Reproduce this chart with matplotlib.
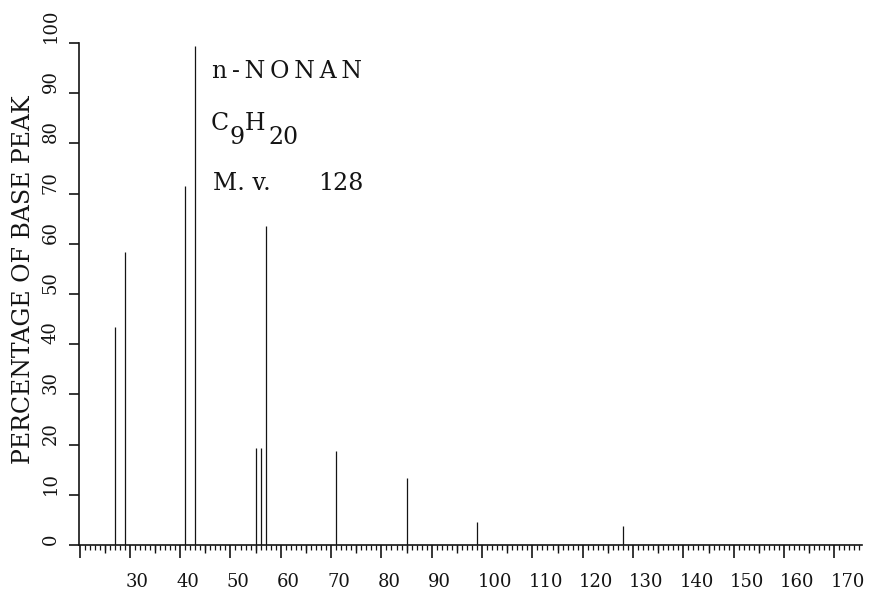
import matplotlib
matplotlib.use("Agg")
import matplotlib.pyplot as plt
from matplotlib.ticker import MultipleLocator, FixedLocator
from matplotlib.transforms import ScaledTranslation
import numpy as np

plt.rcParams['font.family'] = ['DejaVu Serif', 'DejaVu Sans']

# m/z values and relative intensities (% of base peak)
mz = [27, 29, 41, 43, 55, 56, 57, 71, 85, 99, 128]
intensity = [43.5, 58.3, 71.5, 99.5, 19.4, 19.4, 63.5, 18.8, 13.3, 4.6, 3.8]

x_ticks = list(range(20, 171, 10))
x_labels = [""] + [str(v) for v in range(30, 171, 10)]
y_ticks = list(range(0, 101, 10))
y_labels = [str(v) for v in y_ticks]

ink = "#141414"
DPI = 100
fig = plt.figure(figsize=(8.70, 5.93), dpi=DPI)
ax = fig.add_axes([79/870, 1-545/593, (862-79)/870, (545-43)/593])

ax.vlines(mz, 0, intensity, colors=ink, linewidth=0.9, zorder=2)

ax.set_xlim(19.9, 175.5)
ax.set_ylim(0, 100)

for s in ("top", "right"):
    ax.spines[s].set_visible(False)
for s in ("left", "bottom"):
    ax.spines[s].set_linewidth(1.2)
    ax.spines[s].set_color(ink)
    ax.spines[s].set_zorder(3)

ax.xaxis.set_major_locator(FixedLocator(x_ticks))
ax.set_xticklabels(x_labels)
ax.xaxis.set_minor_locator(MultipleLocator(1))
ax.tick_params(axis="x", which="major", direction="out", length=9.4, width=1.2,
               color=ink, labelsize=13, pad=10.5, labelcolor=ink)
ax.tick_params(axis="x", which="minor", direction="out", length=3.6, width=0.9, color=ink)

ax.set_yticks(y_ticks)
ax.set_yticklabels(y_labels)
ax.tick_params(axis="y", which="major", direction="out", length=7.2, width=1.2,
               color=ink, labelsize=13, pad=6.5, labelcolor=ink)

off = ScaledTranslation(-4/DPI, 0, fig.dpi_scale_trans)
for lab in ax.get_xticklabels():
    lab.set_horizontalalignment("left")
    lab.set_transform(lab.get_transform() + off)
for lab in ax.get_yticklabels():
    lab.set_rotation(90)
    lab.set_verticalalignment("bottom")
    lab.set_horizontalalignment("right")

sec = ax.secondary_xaxis("bottom")
sec.set_xticks(list(range(25, 171, 10)))
sec.tick_params(axis="x", direction="out", length=5.8, width=1.0, color=ink, labelbottom=False)
sec.spines["bottom"].set_visible(False)

ax.set_ylabel("PERCENTAGE OF BASE PEAK", fontsize=17, color=ink, va="center")
ax.yaxis.set_label_coords((24-79)/783, (545-280)/502)

ts = 17
tsp = "\u2009"
def put(px, py, s):
    ax.text((px-79)/783, (545-py)/502, s, transform=ax.transAxes,
            fontsize=ts, ha="left", va="baseline", color=ink)

put(211.7, 78, tsp.join("n-NONAN"))
put(211.0, 130, "C")
put(230.0, 144, "9")
put(245.0, 130, "H")
put(268.0, 144, "20")
put(212.7, 190, "M. v.")
put(318.0, 190, "128")

fig.savefig("out.png", dpi=DPI)
